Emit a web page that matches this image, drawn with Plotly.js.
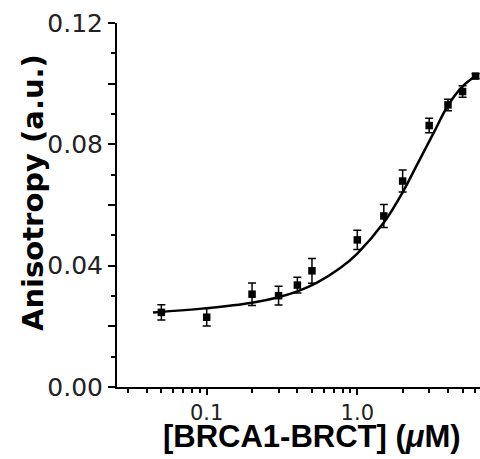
<!DOCTYPE html>
<html>
<head>
<meta charset="utf-8">
<script src="https://cdn.plot.ly/plotly-3.0.1.min.js"></script>
<style>html,body{margin:0;padding:0;background:#fff;}#chart{width:480px;height:459px;}</style>
</head>
<body>
<div id="chart"></div>
<script>
// Measured data (concentration in µM, anisotropy in a.u.)
const concentration = [0.05, 0.1, 0.2, 0.3, 0.4, 0.5, 1.0, 1.5, 2.0, 3.0, 4.0, 5.0, 6.1];
const anisotropy   = [0.0246, 0.0230, 0.0306, 0.0301, 0.0336, 0.0383, 0.0485, 0.0564, 0.0679, 0.0862, 0.0930, 0.0974, 0.1025];
const errors       = [0.0025, 0.0029, 0.0037, 0.0031, 0.0026, 0.0041, 0.0032, 0.0038, 0.0036, 0.0024, 0.0019, 0.0019, 0.0008];

// Fitted curve
const fitConc = [0.044, 0.1, 0.2, 0.3, 0.4, 0.54, 0.77, 1.0, 1.5, 2.0, 2.5, 3.2, 4.0, 5.0, 6.1];
const fitAnis = [0.0246, 0.0260, 0.0278, 0.0296, 0.0315, 0.0344, 0.0392, 0.0440, 0.0542, 0.0642, 0.0734, 0.0836, 0.0928, 0.0991, 0.1025];

// Axis ticks
const xTickVals = [0.1, 1];
const xTickText = ['0.1', '1.0'];
const xMinorVals = [0.03, 0.04, 0.05, 0.06, 0.07, 0.08, 0.09, 0.2, 0.3, 0.4, 0.5, 0.6, 0.7, 0.8, 0.9, 2, 3, 4, 5, 6, 7];
const yTickVals = [0, 0.02, 0.04, 0.06, 0.08, 0.10, 0.12];
const yTickText = ['0.00', '', '0.04', '', '0.08', '', '0.12'];

const xTitle = '[BRCA1-BRCT] (<i>μ</i>M)';
const yTitle = 'Anisotropy (a.u.)';

const traces = [
  {
    x: fitConc, y: fitAnis, type: 'scatter', mode: 'lines',
    line: {color: '#000', width: 2.5, shape: 'spline', smoothing: 1},
    hoverinfo: 'skip', showlegend: false
  },
  {
    x: concentration, y: anisotropy, type: 'scatter', mode: 'markers',
    marker: {symbol: 'square', size: 7.5, color: '#000'},
    error_y: {type: 'data', array: errors, visible: true, color: '#000', thickness: 1.5, width: 4},
    showlegend: false, cliponaxis: false
  }
];

const xTickFont = {family: '"DejaVu Sans", sans-serif', size: 21, color: '#222'};
const yTickFont = {family: '"DejaVu Sans", sans-serif', size: 25, color: '#222'};

const layout = {
  width: 480, height: 459,
  margin: {l: 117, r: 0, t: 23, b: 72},
  paper_bgcolor: '#fff', plot_bgcolor: '#fff',
  showlegend: false,
  xaxis: {
    type: 'log',
    range: [-1.5956, 0.8147],
    tickmode: 'array', tickvals: xTickVals, ticktext: xTickText,
    ticks: 'outside', ticklen: 6, tickwidth: 2, tickcolor: '#000',
    minor: {tickmode: 'array', tickvals: xMinorVals, ticks: 'outside', ticklen: 4, tickwidth: 2, tickcolor: '#000', showgrid: false},
    showline: true, linecolor: '#000', linewidth: 2,
    showgrid: false, zeroline: false,
    tickfont: xTickFont
  },
  yaxis: {
    range: [0, 0.12],
    tickmode: 'array', tickvals: yTickVals, ticktext: yTickText,
    ticks: 'outside', ticklen: 7, tickwidth: 2, tickcolor: '#000',
    minor: {dtick: 0.01, ticks: 'outside', ticklen: 4, tickwidth: 2, tickcolor: '#000', showgrid: false},
    showline: true, linecolor: '#000', linewidth: 2,
    showgrid: false, zeroline: false,
    tickfont: yTickFont
  },
  annotations: [
    {
      text: xTitle, xref: 'paper', yref: 'paper', x: (312 - 117) / 363, y: 0, xanchor: 'center', yanchor: 'middle',
      yshift: -(436 - 387), showarrow: false,
      font: {family: '"Liberation Sans", Arial, sans-serif', size: 31, color: '#000', weight: 'bold'}
    },
    {
      text: yTitle, xref: 'paper', yref: 'paper', x: 0, y: 0.5, xanchor: 'center', yanchor: 'middle',
      xshift: -(117 - 33), yshift: 12, textangle: -90, showarrow: false,
      font: {family: '"DejaVu Sans", sans-serif', size: 29, color: '#000', weight: 'bold'}
    }
  ]
};

Plotly.newPlot('chart', traces, layout, {displayModeBar: false, staticPlot: true});
</script>
</body>
</html>
